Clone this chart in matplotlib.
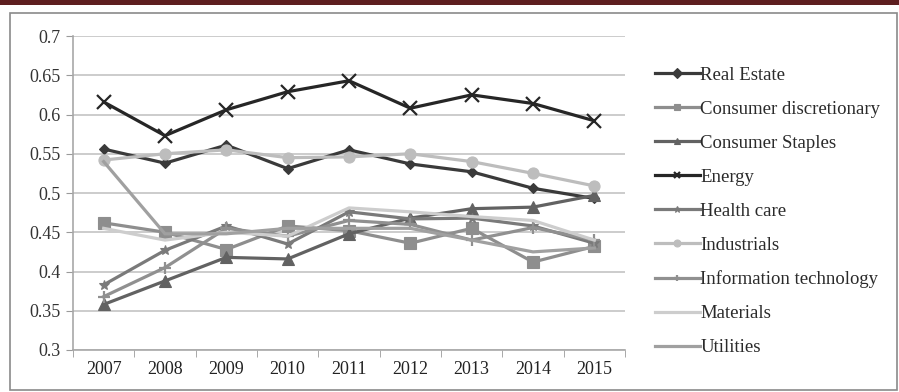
import matplotlib
matplotlib.use("Agg")
import matplotlib.pyplot as plt
from matplotlib.patches import Rectangle

years = ["2007", "2008", "2009", "2010", "2011", "2012", "2013", "2014", "2015"]

real_estate = [0.556, 0.538, 0.561, 0.531, 0.555, 0.537, 0.527, 0.506, 0.493]
consumer_discretionary = [0.462, 0.450, 0.428, 0.458, 0.452, 0.436, 0.455, 0.412, 0.432]
consumer_staples = [0.358, 0.388, 0.418, 0.416, 0.448, 0.468, 0.480, 0.482, 0.497]
energy = [0.616, 0.573, 0.606, 0.629, 0.643, 0.608, 0.625, 0.614, 0.592]
health_care = [0.383, 0.427, 0.458, 0.435, 0.476, 0.467, 0.468, 0.458, 0.436]
industrials = [0.542, 0.550, 0.555, 0.545, 0.546, 0.550, 0.540, 0.525, 0.509]
information_technology = [0.368, 0.405, 0.455, 0.445, 0.465, 0.460, 0.440, 0.456, 0.440]
materials = [0.455, 0.440, 0.450, 0.445, 0.481, 0.476, 0.470, 0.465, 0.440]
utilities = [0.540, 0.448, 0.448, 0.455, 0.455, 0.455, 0.440, 0.425, 0.430]

series = [
    ("Real Estate", real_estate, "#3a3a3a", "D", 5),
    ("Consumer discretionary", consumer_discretionary, "#8e8e8e", "s", 8),
    ("Consumer Staples", consumer_staples, "#626262", "^", 8),
    ("Energy", energy, "#262626", "x", 10),
    ("Health care", health_care, "#7a7a7a", "*", 7),
    ("Industrials", industrials, "#bdbdbd", "o", 8),
    ("Information technology", information_technology, "#909090", "+", 8),
    ("Materials", materials, "#cdcdcd", None, 0),
    ("Utilities", utilities, "#a0a0a0", None, 0),
]

plt.rcParams["font.family"] = ["Liberation Serif", "DejaVu Serif"]

W, H = 899, 392
fig = plt.figure(figsize=(W / 100, H / 100), dpi=100)
fig.patch.set_facecolor("white")

# top banner and chart-area border
fig.add_artist(Rectangle((0, 1 - 5 / H), 1, 5 / H, transform=fig.transFigure,
                         facecolor="#5e1f20", edgecolor="none"))
fig.add_artist(Rectangle((10 / W, 2 / H), (W - 12) / W, (H - 15) / H,
                         transform=fig.transFigure, facecolor="none",
                         edgecolor="#8a8a8a", linewidth=1.2))

ax = fig.add_axes([73 / W, (H - 350) / H, (625 - 73) / W, (350 - 36) / H])
x = list(range(len(years)))

for name, vals, color, marker, ms in series:
    ax.plot(x, vals, color=color, linewidth=2.3, marker=marker, markersize=ms,
            markeredgewidth=1.6 if marker in ("x", "+") else 0.8,
            markeredgecolor=color, markerfacecolor=color, label=name)

ax.set_ylim(0.3, 0.7)
ax.set_xlim(-0.5, len(years) - 0.5)
yt = [0.3, 0.35, 0.4, 0.45, 0.5, 0.55, 0.6, 0.65, 0.7]
ax.set_yticks(yt)
ax.set_yticklabels([f"{v:g}" for v in yt], fontsize=13, color="#333333")
ax.set_xticks(x)
ax.set_xticklabels(years, fontsize=13, color="#222222")
ax.set_xticks([i - 0.5 for i in range(len(years) + 1)], minor=True)
ax.tick_params(axis="x", which="major", length=0, pad=8)
ax.tick_params(axis="x", which="minor", length=5, color="#9a9a9a")
ax.tick_params(axis="y", length=5, color="#9a9a9a", pad=4)
ax.grid(axis="y", color="#c4c4c4", linewidth=1.2)
ax.set_axisbelow(True)
for s in ("top", "right"):
    ax.spines[s].set_visible(False)
for s in ("left", "bottom"):
    ax.spines[s].set_color("#a8a8a8")
    ax.spines[s].set_linewidth(1.2)

leg = fig.legend(loc="upper left", bbox_to_anchor=(647 / W, (H - 59) / H),
                 frameon=False, fontsize=13.5, handlelength=2.4, handletextpad=0.05,
                 labelspacing=0.9, borderaxespad=0)
for t in leg.get_texts():
    t.set_color("#2a2a2a")
for h in leg.legend_handles:
    h.set_markersize(5)

fig.savefig("out.png", dpi=100)
